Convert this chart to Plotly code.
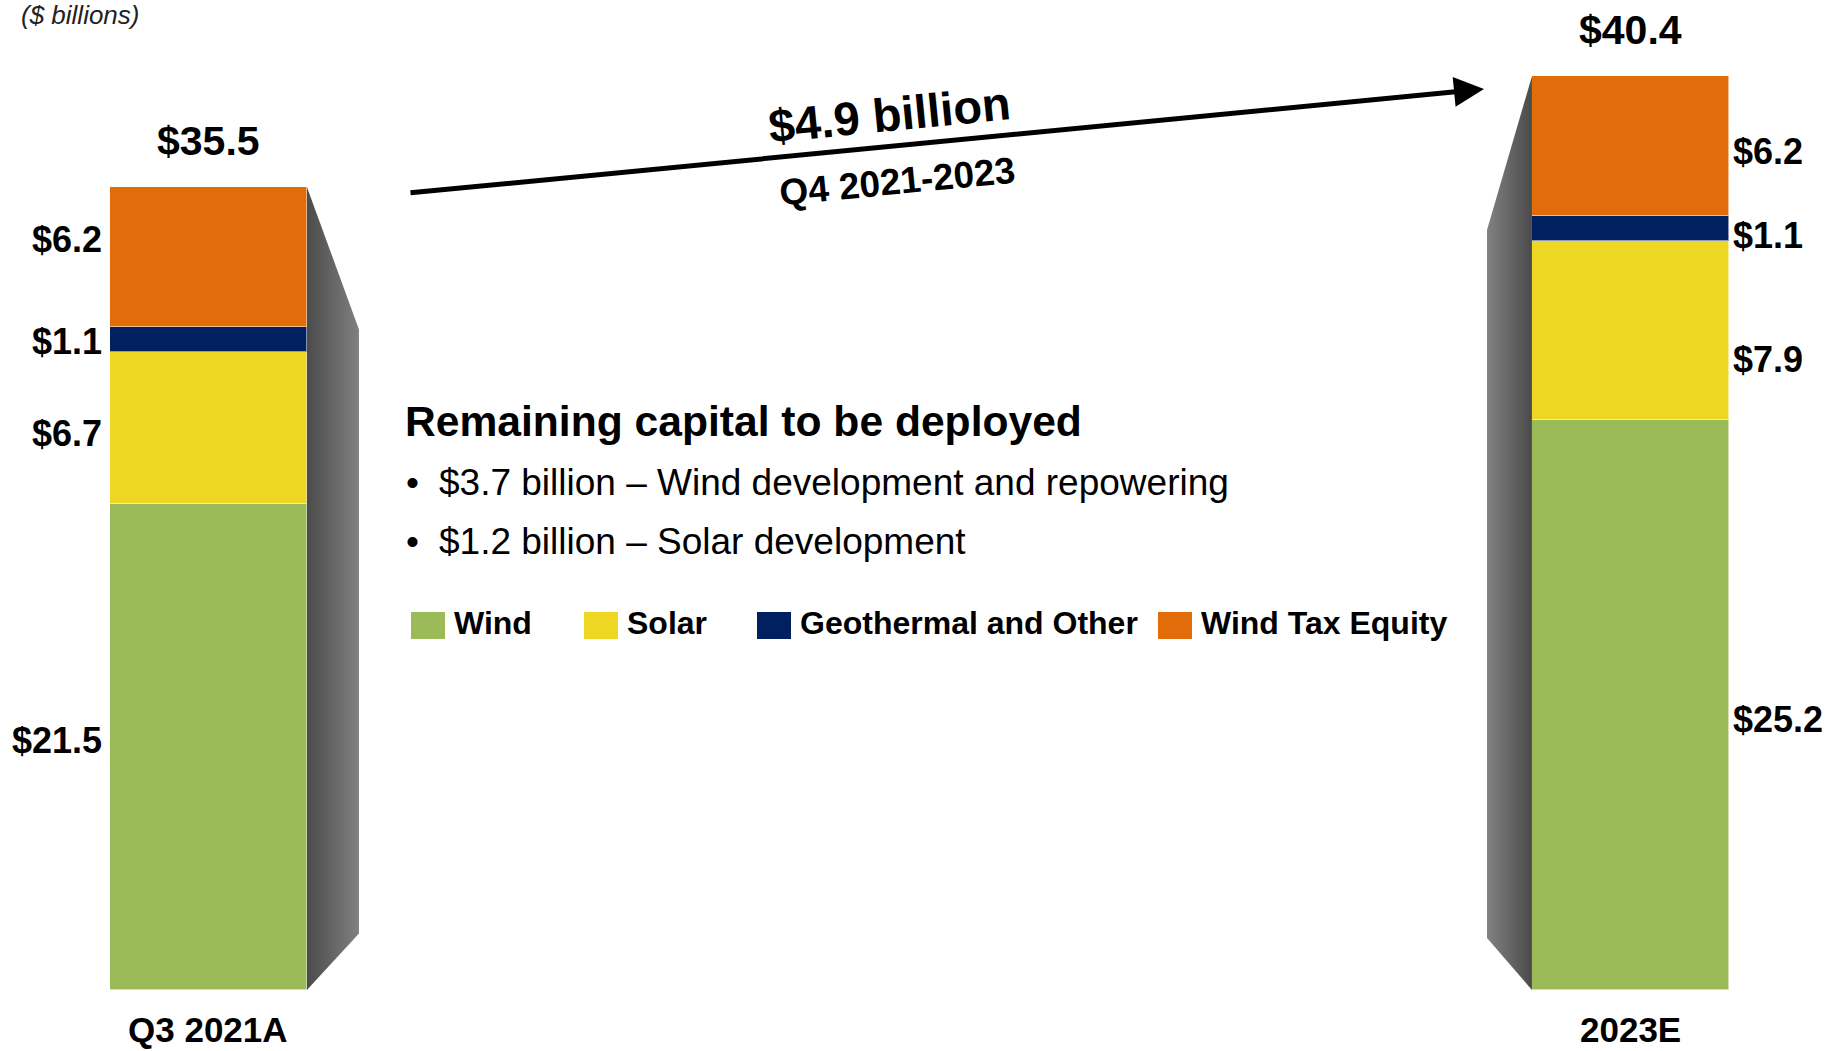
"""Capital deployado: Q3 2021A vs 2023E, barras apiladas con lateral en perspectiva."""
import plotly.graph_objects as go

W, H = 1843, 1051
FONT = "Liberation Sans, Arial, sans-serif"

# --- datos ---------------------------------------------------------------
categories = ["Q3 2021A", "2023E"]
series = ["Wind", "Solar", "Geothermal and Other", "Wind Tax Equity"]
wind = [21.5, 25.2]
solar = [6.7, 7.9]
geothermal = [1.1, 1.1]
tax_equity = [6.2, 6.2]
totals = [35.5, 40.4]

growth_label = "$4.9 billion"
growth_period = "Q4 2021-2023"
unit_note = "($ billions)"
box_title = "Remaining capital to be deployed"
box_items = ["$3.7 billion – Wind development and repowering",
             "$1.2 billion – Solar development"]

COLORS = ["#9BBB59", "#EDD722", "#002060", "#E36C0A"]

# --- geometría / estilo --------------------------------------------------
POS = [0, 1]
BAR_W = 0.1385
X_RANGE = [-0.1466, 1.1495]
Y_RANGE = [-2.70, 43.77]
SIDE_DIR = [1, -1]            # lateral a la derecha / izquierda
SIDE_DEPTH = [0.0366, 0.0316]
SIDE_TOP_DROP = [6.3, 6.8]
SIDE_BOTTOM = [2.5, 2.3]
SIDE_SCALES = [[[0, "#4b4b4b"], [1, "#808080"]],
               [[0, "#828282"], [1, "#4a4a4a"]]]
# ajuste vertical (px) de las etiquetas de segmento, por barra y serie
LABEL_NUDGE = [[6, -6, -2, 18], [-15, -29, -7, -5]]


def px(x):
    return x / W


def py(y):
    return 1 - y / H


fig = go.Figure()

# laterales grises con degradado
for i, p in enumerate(POS):
    edge = p + SIDE_DIR[i] * BAR_W / 2
    far = edge + SIDE_DIR[i] * SIDE_DEPTH[i]
    fig.add_trace(go.Scatter(
        x=[edge, far, far, edge, edge],
        y=[totals[i], totals[i] - SIDE_TOP_DROP[i], SIDE_BOTTOM[i], 0, totals[i]],
        mode="lines", line=dict(width=0), fill="toself",
        fillgradient=dict(type="horizontal", colorscale=SIDE_SCALES[i]),
        hoverinfo="skip", showlegend=False,
    ))

values = [wind, solar, geothermal, tax_equity]
for name, vals, color in zip(series, values, COLORS):
    fig.add_trace(go.Bar(
        x=POS, y=vals, name=name, width=BAR_W,
        marker=dict(color=color, line=dict(color="rgba(255,255,255,0.55)", width=1)),
        showlegend=False,
    ))

ann = []
# etiquetas de segmento
for i, p in enumerate(POS):
    base = 0
    side = SIDE_DIR[i]
    for j, vals in enumerate(values):
        v = vals[i]
        ann.append(dict(
            x=p - side * BAR_W / 2, y=base + v / 2, xref="x", yref="y",
            text=f"<b>${v:.1f}</b>", showarrow=False,
            xanchor="right" if side > 0 else "left",
            xshift=-6 if side > 0 else 2, yshift=LABEL_NUDGE[i][j],
            font=dict(size=36, color="black"),
        ))
        base += v
    ann.append(dict(x=p, y=totals[i], xref="x", yref="y", text=f"<b>${totals[i]:.1f}</b>",
                    showarrow=False, yanchor="middle", yshift=46,
                    font=dict(size=41, color="black")))
    ann.append(dict(x=p, y=0, xref="x", yref="y", text=f"<b>{categories[i]}</b>",
                    showarrow=False, yanchor="middle", yshift=-40,
                    font=dict(size=35, color="black")))

# flecha de crecimiento
ann.append(dict(x=px(1484), y=py(89), xref="paper", yref="paper", ax=-1075, ay=104,
                axref="pixel", ayref="pixel", text="", showarrow=True,
                arrowhead=2, arrowsize=1.2, arrowwidth=5, arrowcolor="black"))
ann.append(dict(x=px(889), y=py(74), xref="paper", yref="paper", text=f"<b>{growth_label}</b>",
                showarrow=False, textangle=-5.6, font=dict(size=47, color="black")))
ann.append(dict(x=px(897), y=py(147), xref="paper", yref="paper", text=f"<b>{growth_period}</b>",
                showarrow=False, textangle=-5.6, font=dict(size=37, color="black")))

# nota de unidades
ann.append(dict(x=px(19), y=1, xref="paper", yref="paper", text=f"<i>{unit_note}</i>",
                showarrow=False, xanchor="left", yanchor="top", yshift=2,
                font=dict(size=26, color="#222222")))

# recuadro de capital pendiente
ann.append(dict(x=px(403), y=py(421), xref="paper", yref="paper", text=f"<b>{box_title}</b>",
                showarrow=False, xanchor="left", font=dict(size=42.6, color="black")))
for k, item in enumerate(box_items):
    yy = 482 + k * 59
    ann.append(dict(x=px(404), y=py(yy), xref="paper", yref="paper", text="•",
                    showarrow=False, xanchor="left", font=dict(size=37, color="black")))
    ann.append(dict(x=px(437), y=py(yy), xref="paper", yref="paper", text=item,
                    showarrow=False, xanchor="left", font=dict(size=37, color="black")))

# leyenda manual
LEG_SQ_X = [411, 584, 757, 1158]
LEG_Y = 625
shapes = []
for name, color, lx in zip(series, COLORS, LEG_SQ_X):
    shapes.append(dict(type="rect", xref="paper", yref="paper",
                       x0=px(lx), x1=px(lx + 34), y0=py(LEG_Y - 13), y1=py(LEG_Y + 14),
                       fillcolor=color, line=dict(width=0)))
    ann.append(dict(x=px(lx + 41), y=py(LEG_Y - 2), xref="paper", yref="paper",
                    text=f"<b>{name}</b>", showarrow=False, xanchor="left",
                    font=dict(size=32, color="black")))

fig.update_layout(
    width=W, height=H, margin=dict(l=0, r=0, t=0, b=0),
    barmode="stack", bargap=0,
    paper_bgcolor="white", plot_bgcolor="white",
    font=dict(family=FONT, color="black"),
    xaxis=dict(range=X_RANGE, visible=False, fixedrange=True),
    yaxis=dict(range=Y_RANGE, visible=False, fixedrange=True),
    annotations=ann, shapes=shapes, showlegend=False,
)

fig.write_html("out.html", config={"displayModeBar": False},
               post_script="document.body.style.margin='0';document.body.style.overflow='hidden';")
